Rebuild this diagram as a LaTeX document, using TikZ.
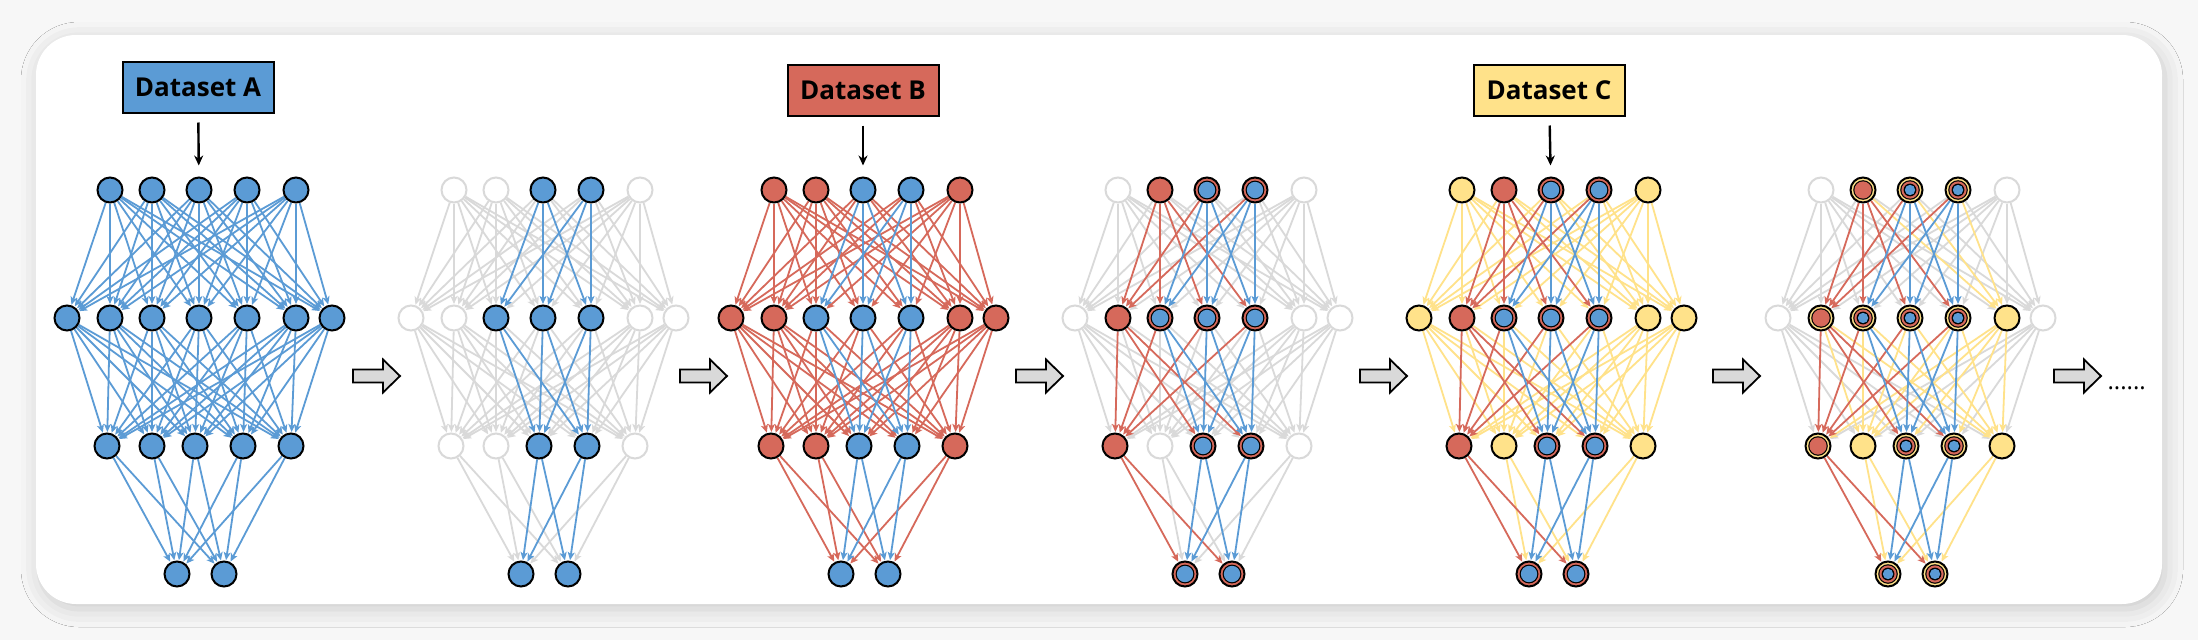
\documentclass[tikz,border=0pt]{standalone}
\usepackage{fontspec}
\setmainfont{Open Sans}
\usetikzlibrary{arrows.meta,shadows.blur}

\definecolor{cBlue}{HTML}{5B9BD5}
\definecolor{cRed}{HTML}{D6695B}
\definecolor{cYel}{HTML}{FFE28A}
\definecolor{cGray}{HTML}{D9D9D9}
\definecolor{cBack}{HTML}{F7F7F7}

\pgfdeclarelayer{back}
\pgfdeclarelayer{wires}
\pgfsetlayers{back,wires,main}

% x offsets of the neurons in each layer
\def\posI{-89,-47,0,48,97}
\def\posII{-132,-89,-47,0,48,97,133}
\def\posIII{-92,-47,-4,44,92}
\def\posIV{-22,25}

% task of a neuron state (0 unused, 1 A, 2 B, 3 C)
\newcommand{\lvlof}[1]{\ifcase#1\space 0\or 1\or 2\or 3\or 1\or 1\or 2\fi}

\newcommand{\neurons}[6]{% net, layer, centre x, y, offsets, states
  \edef\stlist{#6}
  \foreach \st [count=\i] in \stlist {
    \pgfmathsetmacro\dx{{#5}[\i-1]}
    \node[st\st] (n#1-#2-\i) at (#3+\dx,#4) {};
    \expandafter\xdef\csname lv#1-#2-\i\endcsname{\lvlof{\st}}
  }
}

\newcommand{\wires}[5]{% net, upper layer, lower layer, sizes
  \foreach \pass in {0,3,2,1} {
    \foreach \i in {1,...,#4} {
      \foreach \j in {1,...,#5} {
        \edef\la{\csname lv#1-#2-\i\endcsname}
        \edef\lb{\csname lv#1-#3-\j\endcsname}
        \pgfmathtruncatemacro\lw{(\la==0 || \lb==0) ? 0 : max(\la,\lb)}
        \ifnum\lw=\pass
          \draw[wire\lw] (n#1-#2-\i) -- (n#1-#3-\j);
        \fi
      }
    }
  }
}

\tikzset{
  nrn/.style={circle, minimum size=25pt, inner sep=0pt, line width=2pt, draw=black},
  st0/.style={nrn, draw=cGray, fill=white},
  st1/.style={nrn, fill=cBlue},
  st2/.style={nrn, fill=cRed},
  st3/.style={nrn, fill=cYel},
  st4/.style={nrn, fill=cRed, path picture={
      \fill[black] (path picture bounding box.center) circle (9.4pt);
      \fill[cBlue] (path picture bounding box.center) circle (8.2pt);}},
  st5/.style={nrn, fill=cYel, path picture={
      \fill[black] (path picture bounding box.center) circle (9.8pt);
      \fill[cRed] (path picture bounding box.center) circle (8.6pt);
      \fill[black] (path picture bounding box.center) circle (6.4pt);
      \fill[cBlue] (path picture bounding box.center) circle (5.2pt);}},
  st6/.style={nrn, fill=cYel, path picture={
      \fill[black] (path picture bounding box.center) circle (9.8pt);
      \fill[cRed] (path picture bounding box.center) circle (8.6pt);}},
  wire/.style={line width=1.8pt, -{Stealth[length=8pt,width=7pt,inset=2pt]}, shorten >=0.5pt},
  wire0/.style={wire, cGray},
  wire1/.style={wire, cBlue},
  wire2/.style={wire, cRed},
  wire3/.style={wire, cYel},
  dsbox/.style={draw=black, line width=2pt, minimum width=151pt, minimum height=51pt,
    inner sep=0pt, font=\fontsize{26}{30}\selectfont\bfseries},
  feed/.style={line width=2.4pt, -{Stealth[length=10pt,width=9pt]}, shorten <=9pt, shorten >=11pt},
  stepper/.style={draw=black, fill=cGray, line width=1.8pt, line join=miter}
}

\begin{document}
\begin{tikzpicture}[x=1pt,y=-1pt]
    \useasboundingbox (0,0) rectangle (2198,640);
    \begin{pgfonlayer}{back}
    \fill[cBack] (0,0) rectangle (2198,640);
    \fill[white, rounded corners=40pt,
      blur shadow={shadow xshift=3pt, shadow yshift=-5pt, shadow blur radius=18pt, shadow opacity=18}]
      (36,35) rectangle (2162,604);
    \end{pgfonlayer}

    % six networks: A, pruned, B, pruned, C, pruned
    \foreach \n/\cx/\sI/\sII/\sIII/\sIV in {
        1/199/{1,1,1,1,1}/{1,1,1,1,1,1,1}/{1,1,1,1,1}/{1,1},
        2/543/{0,0,1,1,0}/{0,0,1,1,1,0,0}/{0,0,1,1,0}/{1,1},
        3/863/{2,2,1,1,2}/{2,2,1,1,1,2,2}/{2,2,1,1,2}/{1,1},
        4/1207/{0,2,4,4,0}/{0,2,4,4,4,0,0}/{2,0,4,4,0}/{4,4},
        5/1551/{3,2,4,4,3}/{3,2,4,4,4,3,3}/{2,3,4,4,3}/{4,4},
        6/1910/{0,6,5,5,0}/{0,6,5,5,5,3,0}/{6,3,5,5,3}/{5,5}} {
      \neurons{\n}{1}{\cx}{190}{\posI}{\sI}
      \neurons{\n}{2}{\cx}{318}{\posII}{\sII}
      \neurons{\n}{3}{\cx}{446}{\posIII}{\sIII}
      \neurons{\n}{4}{\cx}{574}{\posIV}{\sIV}
      \begin{pgfonlayer}{wires}
        \wires{\n}{1}{2}{5}{7}
        \wires{\n}{2}{3}{7}{5}
        \wires{\n}{3}{4}{5}{2}
      \end{pgfonlayer}
    }

    \node[dsbox, fill=cBlue] (dsA) at (198,87) {Dataset A};
    \node[dsbox, fill=cRed] (dsB) at (863,90) {Dataset B};
    \node[dsbox, fill=cYel] (dsC) at (1549,90) {Dataset C};
    \draw[feed] (dsA) -- (n1-1-3);
    \draw[feed] (dsB) -- (n3-1-3);
    \draw[feed] (dsC) -- (n5-1-3);

    \foreach \ax in {353,680,1016,1360,1713,2054}
      \draw[stepper] (\ax,369.5) -- ++(30,0) -- ++(0,-10) -- ++(17,16.5) -- ++(-17,16.5)
        -- ++(0,-10) -- ++(-30,0) -- cycle;
    \node[anchor=base west, font=\fontsize{24}{28}\selectfont] (more) at (2104,389) {......};
\end{tikzpicture}
\end{document}
